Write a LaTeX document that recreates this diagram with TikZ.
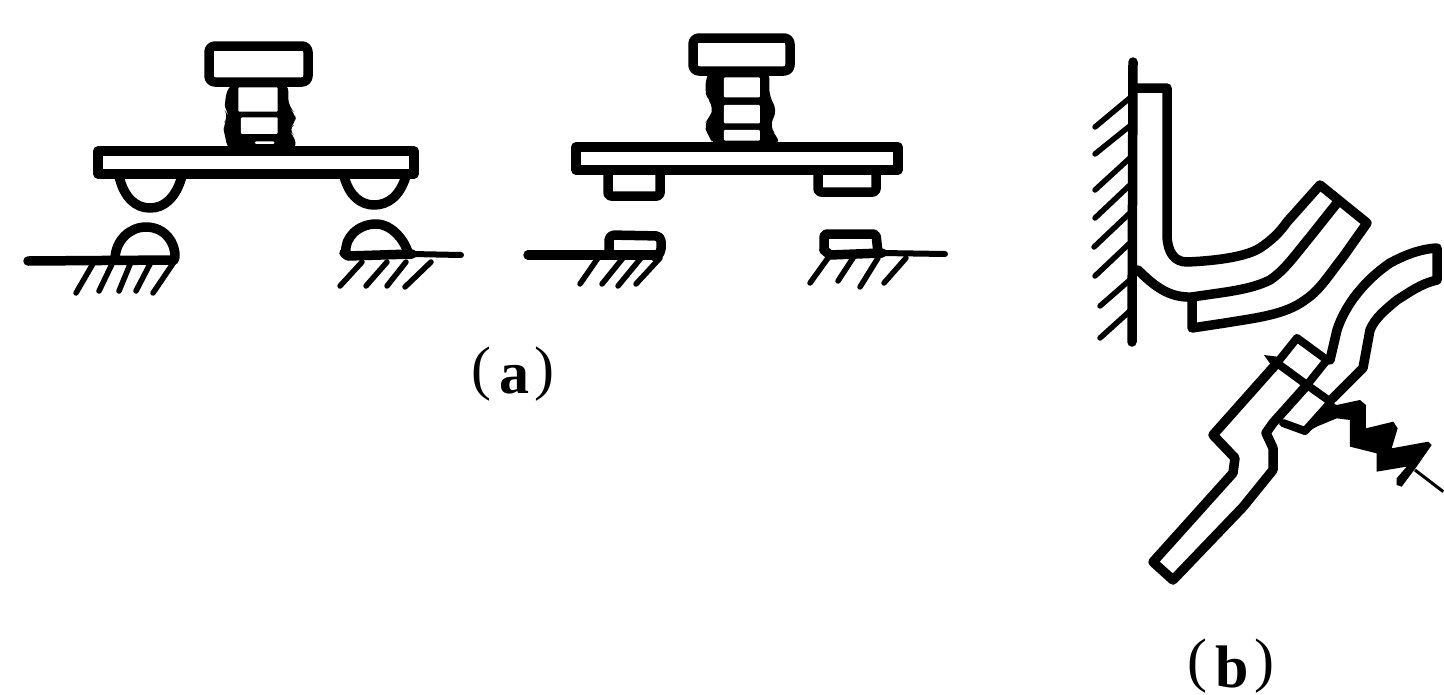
\documentclass[tikz,border=0pt]{standalone}
\usepackage{fontspec}
\setmainfont{Liberation Serif}
\tikzset{
 ink/.style={line width=9.5pt,line join=round,line cap=round,black},
 thin ink/.style={line width=5.5pt,line cap=round,black},
 body/.style={fill=black,rounded corners=8pt},
 hole/.style={fill=white,rounded corners=1pt},
 lab/.style={font=\fontsize{60}{60}\selectfont,inner sep=0pt,anchor=base}
}
\newcommand{\plab}[2]{\raisebox{#2}{(}\kern8pt{\bfseries #1}\kern5pt\raisebox{#2}{)}}
\begin{document}
\begin{tikzpicture}[x=1pt,y=-1pt]
\useasboundingbox (0,0) rectangle (1444,694);
\fill[white] (0,0) rectangle (1444,694);
% left assembly
\draw[ink,rounded corners=6pt] (209,46) rectangle (308,82);
\begin{scope}[shift={(205,70)},x=0.3333pt,y=-0.3333pt]
\fill[body] (75,40) -- (58,90) -- (62,125) -- (72,140) -- (52,165) -- (60,195) -- (68,240) -- (275,240) -- (268,195) -- (248,178) -- (274,160) -- (270,128) -- (250,110) -- (250,40) -- cycle;
\fill[hole] (100,52) rectangle (218,125);
\fill[hole] (108,142) rectangle (218,192);
\fill[hole] (150,214) rectangle (208,222);
\end{scope}
\draw[ink] (98,151) -- (414,151) -- (414,174) -- (98,174) -- cycle;
\draw[ink] (119,176) .. controls (124,198) and (136,208) .. (150,208) .. controls (164,208) and (176,198) .. (182,176);
\draw[ink] (344,176) .. controls (349,196) and (361,205) .. (374,205) .. controls (388,205) and (400,196) .. (406,176);
\draw[ink] (115,258) .. controls (116,240) and (130,227) .. (146,227) .. controls (165,227) and (176,243) .. (175,258) -- (173,260);
\draw[ink] (346,253) .. controls (344,238) and (358,224) .. (376,224) .. controls (392,224) and (404,240) .. (408,252);
\draw[ink] (28,261) -- (174,260);
\draw[ink] (344,253) -- (348,256) -- (412,254);
\draw[ink,line width=6pt] (412,254) -- (461,255);
\foreach \a/\b/\c/\d in {94/262/76/293,113/262/99/291,131/262/119/291,151/262/136/291,174/262/153/293,362/262/340/286,387/262/366/286,406/262/387/286,431/262/405/287}
 \draw[thin ink] (\a,\b) -- (\c,\d);
% middle assembly
\draw[ink,rounded corners=6pt] (693,38) rectangle (790,71);
\begin{scope}[shift={(500,20)},x=0.3333pt,y=-0.3333pt]
\fill[body] (625,150) -- (613,210) -- (625,240) -- (642,262) -- (630,290) -- (610,315) -- (625,345) -- (640,375) -- (842,375) -- (825,340) -- (808,320) -- (832,270) -- (808,230) -- (808,150) -- cycle;
\fill[hole] (672,172) rectangle (780,232);
\fill[hole] (672,255) rectangle (780,310);
\fill[hole] (672,330) rectangle (780,362);
\end{scope}
\draw[ink] (576,147) -- (898,147) -- (898,170) -- (576,170) -- cycle;
\draw[ink,rounded corners=3pt] (608,172) -- (608,196) -- (660,196) -- (660,172);
\draw[ink,rounded corners=3pt] (818,172) -- (818,192) -- (876,192) -- (876,172);
\draw[ink,rounded corners=5pt] (609,254) -- (609,235) -- (661,236) -- (661,254) -- (655,257);
\draw[ink,rounded corners=3pt] (824,250) -- (824,234) -- (876,234) -- (878,253);
\draw[ink] (528,255) -- (655,255);
\draw[ink] (824,250) -- (830,255) -- (882,253);
\draw[ink,line width=6pt] (882,253) -- (945,254);
\foreach \a/\b/\c/\d in {598/258/580/284,623/258/602/284,641/258/618/286,660/258/636/284,828/258/810/283,853/258/838/281,878/258/860/287,906/258/884/283}
 \draw[thin ink] (\a,\b) -- (\c,\d);
% wall
\draw[ink] (1133,62) -- (1132,342);
\foreach \a/\b/\c/\d in {1131/97/1095/127,1131/125/1095/154,1131/157/1095/190,1131/184/1095/218,1131/212/1094/247,1131/242/1095/276,1131/279/1100/306,1131/310/1100/338}
 \draw[thin ink] (\a,\b) -- (\c,\d);
% bracket
\draw[ink] (1133,88) -- (1167,88) -- (1167,237)
 .. controls (1168,252) and (1174,262) .. (1187,262)
 .. controls (1210,261) and (1244,258) .. (1260,248)
 .. controls (1272,240) and (1280,232) .. (1287,222)
 -- (1320,185) -- (1367,223)
 -- (1343,257) .. controls (1328,276) and (1320,290) .. (1305,300)
 .. controls (1285,315) and (1255,318) .. (1225,323)
 -- (1192,328) -- (1192,297);
\draw[ink] (1337,203) -- (1310,237) .. controls (1295,255) and (1285,270) .. (1270,280)
 .. controls (1250,290) and (1225,292) .. (1192,297)
 .. controls (1170,298) and (1155,287) .. (1138,270);
% arm
\draw[ink] (1330,360) -- (1337,330) .. controls (1345,305) and (1365,280) .. (1390,263)
 .. controls (1405,255) and (1420,249) .. (1437,248) -- (1437,280)
 .. controls (1420,284) and (1410,292) .. (1397,300)
 .. controls (1385,310) and (1375,318) .. (1370,330)
 -- (1363,368) -- (1333,398);
% lever
\draw[ink,line width=8pt] (1297,338) -- (1327,360) -- (1307,385) -- (1277,363) -- cycle;
\draw[ink,line width=8pt] (1307,385) -- (1331,402) -- (1305,431) -- (1283,423);
\fill (1264,355) -- (1280,357) -- (1276,372) -- cycle;
\draw[ink] (1277,363) -- (1213,435) -- (1235,458) -- (1233,473) -- (1153,562) -- (1173,580)
 -- (1243,507) -- (1273,470) -- (1273,448) -- (1266,433) -- (1273,423) -- (1307,385);
% spring
\begin{scope}[shift={(1130,330)},x=0.3333pt,y=-0.3333pt]
\fill (525,310) -- (590,210) -- (620,225) -- (690,210) -- (708,225) -- (708,295) -- (790,275) -- (803,295)
 -- (785,355) -- (895,335) -- (905,345) -- (860,410) -- (815,470) -- (800,465) -- (800,445) -- (830,410)
 -- (740,425) -- (740,370) -- (660,350) -- (660,270) -- (620,265) -- (560,290) -- cycle;
\draw[line width=3pt] (855,420) -- (940,485);
\end{scope}
\node[lab] (la) at (513,393) {\plab{a}{5pt}};
\node[lab] (lb) at (1231,687) {\plab{b}{7pt}};
\end{tikzpicture}
\end{document}
